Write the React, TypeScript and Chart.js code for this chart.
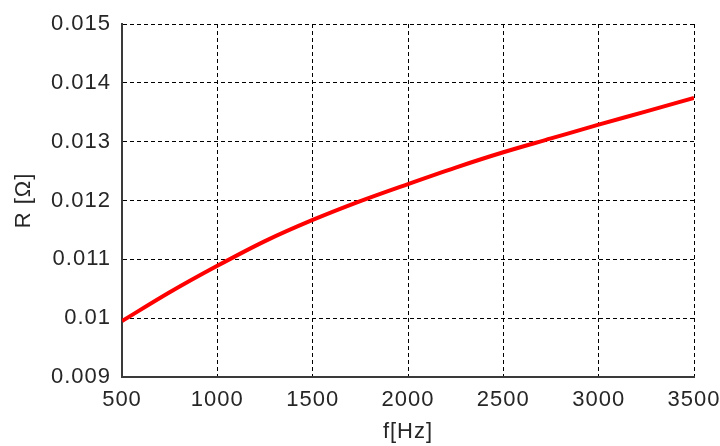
import React, { useEffect, useRef } from "react";
import { Chart, registerables } from "chart.js";

Chart.register(...registerables);

const frequencies = [500, 750, 1000, 1250, 1500, 1750, 2000, 2250, 2500, 2750, 3000, 3250, 3500];
const resistance = [0.00995, 0.01044, 0.01089, 0.01131, 0.01167, 0.01199, 0.01228, 0.01256, 0.01282, 0.013055, 0.01329, 0.013515, 0.013745];
const xTitle = "f[Hz]";
const yTitle = "R [Ω]";

const FONT = "'Liberation Sans', Arial, sans-serif";

const spacingPlugin = {
  id: "letterSpacing",
  beforeDraw(chart: any) {
    try { chart.ctx.letterSpacing = "1px"; } catch (e) {}
  },
  beforeLayout(chart: any) {
    try { chart.ctx.letterSpacing = "1px"; } catch (e) {}
  },
};

export default function App() {
  const ref = useRef<HTMLCanvasElement>(null);
  useEffect(() => {
    document.body.style.margin = "0";
    const canvas = ref.current!;
    const chart = new Chart(canvas, {
      type: "line",
      data: {
        datasets: [
          {
            data: frequencies.map((f, i) => ({ x: f, y: resistance[i] })),
            borderColor: "#ff0000",
            borderWidth: 4,
            pointRadius: 0,
            cubicInterpolationMode: "monotone",
            fill: false,
          },
        ],
      },
      options: {
        animation: false,
        responsive: false,
        maintainAspectRatio: false,
        layout: { padding: { top: 24, right: 26, left: 0, bottom: 0 } },
        plugins: { legend: { display: false }, tooltip: { enabled: false } },
        scales: {
          x: {
            type: "linear",
            min: 500,
            max: 3500,
            ticks: {
              stepSize: 500,
              padding: 10,
              color: "#262626",
              font: { family: FONT, size: 22 },
              maxRotation: 0,
              callback: (v: any) => String(v),
            },
            grid: { color: "#000", lineWidth: 1, drawTicks: false },
            border: { display: true, color: "#3a3a3a", width: 2, dash: [4, 3] },
            title: {
              display: true,
              text: xTitle,
              color: "#262626",
              font: { family: FONT, size: 22 },
              padding: { top: 0, bottom: 1 },
            },
            afterFit: (s: any) => { s.height = 69; s.paddingLeft = 0; s.paddingRight = 0; },
          },
          y: {
            type: "linear",
            min: 0.009,
            max: 0.015,
            ticks: {
              stepSize: 0.001,
              padding: 11,
              color: "#262626",
              font: { family: FONT, size: 22 },
              callback: (v: any) => String(Number(Number(v).toFixed(3))),
            },
            grid: { color: "#000", lineWidth: 1, drawTicks: false },
            border: { display: true, color: "#3a3a3a", width: 2, dash: [4, 3] },
            title: {
              display: true,
              text: yTitle,
              color: "#262626",
              font: { family: FONT, size: 22 },
              padding: { top: 11, bottom: 0 },
            },
            afterFit: (s: any) => { s.width = 122; s.paddingTop = 0; s.paddingBottom = 0; },
          },
        },
      },
      plugins: [spacingPlugin],
    } as any);
    return () => chart.destroy();
  }, []);
  return <canvas ref={ref} width={720} height={446} style={{ display: "block" }} />;
}
